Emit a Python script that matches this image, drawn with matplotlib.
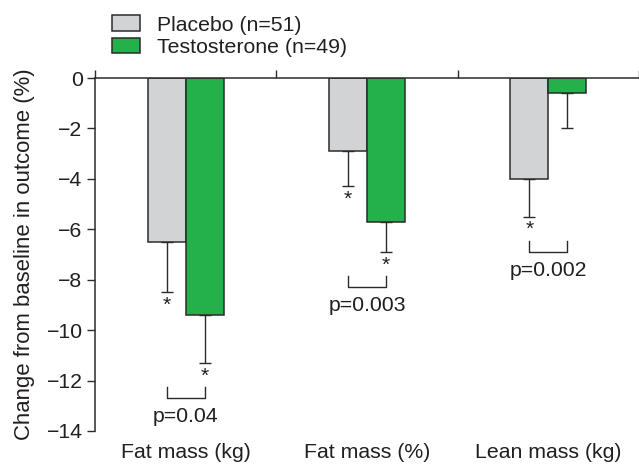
import matplotlib
matplotlib.use("Agg")
import matplotlib.pyplot as plt
from matplotlib.patches import Patch
import numpy as np

categories = ["Fat mass (kg)", "Fat mass (%)", "Lean mass (kg)"]
placebo = [-6.5, -2.9, -4.0]
placebo_err = [2.0, 1.4, 1.5]
testo = [-9.4, -5.7, -0.6]
testo_err = [1.9, 1.2, 1.4]
placebo_sig = [True, True, True]
testo_sig = [True, True, False]
pvalues = ["p=0.04", "p=0.003", "p=0.002"]
yticks = [0, -2, -4, -6, -8, -10, -12, -14]
legend_labels = ["Placebo (n=51)", "Testosterone (n=49)"]

plt.rcParams['font.family'] = ['Liberation Sans', 'DejaVu Sans']
FS = 15.3
TXT = '#231F20'
EDGE = '#2b2b2b'
GREY = '#D2D3D5'
GREEN = '#24B04B'

W, H = 639, 465
fig = plt.figure(figsize=(W / 100, H / 100), dpi=100)
ax = fig.add_axes([95 / W, 1 - 431 / H, 1 - 95 / W, (431 - 78) / H])

x = np.arange(len(categories))
bw = 0.209
ax.bar(x - bw / 2, placebo, bw, color=GREY, edgecolor=EDGE, linewidth=1.1, zorder=2)
ax.bar(x + bw / 2, testo, bw, color=GREEN, edgecolor=EDGE, linewidth=1.1, zorder=2)
ax.errorbar(x - bw / 2, placebo, yerr=[placebo_err, [0] * 3], fmt='none',
            ecolor=EDGE, elinewidth=1.0, capsize=4.5, capthick=1.0, zorder=1)
ax.errorbar(x + bw / 2, testo, yerr=[testo_err, [0] * 3], fmt='none',
            ecolor=EDGE, elinewidth=1.0, capsize=4.5, capthick=1.0, zorder=1)

ax.set_xlim(-0.5, len(categories) - 0.5)
ax.set_ylim(-14, 0)

# pixel -> data conversion along y
px = 14 / (431 - 78)

for i in range(len(categories)):
    pe = placebo[i] - placebo_err[i]
    te = testo[i] - testo_err[i]
    if placebo_sig[i]:
        ax.text(x[i] - bw / 2, pe - 13 * px, '*', ha='center', va='center',
                fontsize=FS, color=TXT)
    if testo_sig[i]:
        ax.text(x[i] + bw / 2, te - 13 * px, '*', ha='center', va='center',
                fontsize=FS, color=TXT)
    low = min(pe, te)
    top = low - 24 * px
    bot = top - 11 * px
    ax.plot([x[i] - bw / 2, x[i] - bw / 2, x[i] + bw / 2, x[i] + bw / 2],
            [top, bot, bot, top], color=EDGE, lw=1.0, clip_on=False)
    ax.text(x[i], bot - 19 * px, pvalues[i], ha='center', va='center',
            fontsize=FS, color=TXT)

# spines
for s in ['right', 'bottom']:
    ax.spines[s].set_visible(False)
ax.spines['top'].set_position(('data', 0))
for s in ['left', 'top']:
    ax.spines[s].set_linewidth(1.1)
    ax.spines[s].set_color(EDGE)

ax.set_yticks(yticks)
ax.set_yticklabels([f"\u2212{abs(v)}" if v != 0 else "0" for v in yticks])
ax.tick_params(axis='y', direction='out', length=6, width=1.0, color=EDGE,
               labelsize=FS, labelcolor=TXT, pad=3)

ax.set_xticks(np.arange(-0.5, len(categories), 1.0))
ax.tick_params(axis='x', which='major', top=True, bottom=False, labeltop=False,
               labelbottom=False, direction='out', length=6, width=1.0, color=EDGE)
for i, c in enumerate(categories):
    ax.text(x[i], -14 - 21 * px, c, ha='center', va='center', fontsize=FS,
            color=TXT, clip_on=False)

ax.set_ylabel("Change from baseline in outcome (%)", fontsize=15.9, color=TXT,
              labelpad=8)

handles = [Patch(facecolor=GREY, edgecolor=EDGE, linewidth=1.1),
           Patch(facecolor=GREEN, edgecolor=EDGE, linewidth=1.1)]
fig.legend(handles, legend_labels, loc='upper left',
           bbox_to_anchor=(103 / W, 1 - 7 / H), frameon=False, fontsize=FS,
           handlelength=1.35, handleheight=0.72, handletextpad=0.8,
           labelspacing=0.15, borderaxespad=0, labelcolor=TXT)

fig.savefig("out.png", dpi=100)
